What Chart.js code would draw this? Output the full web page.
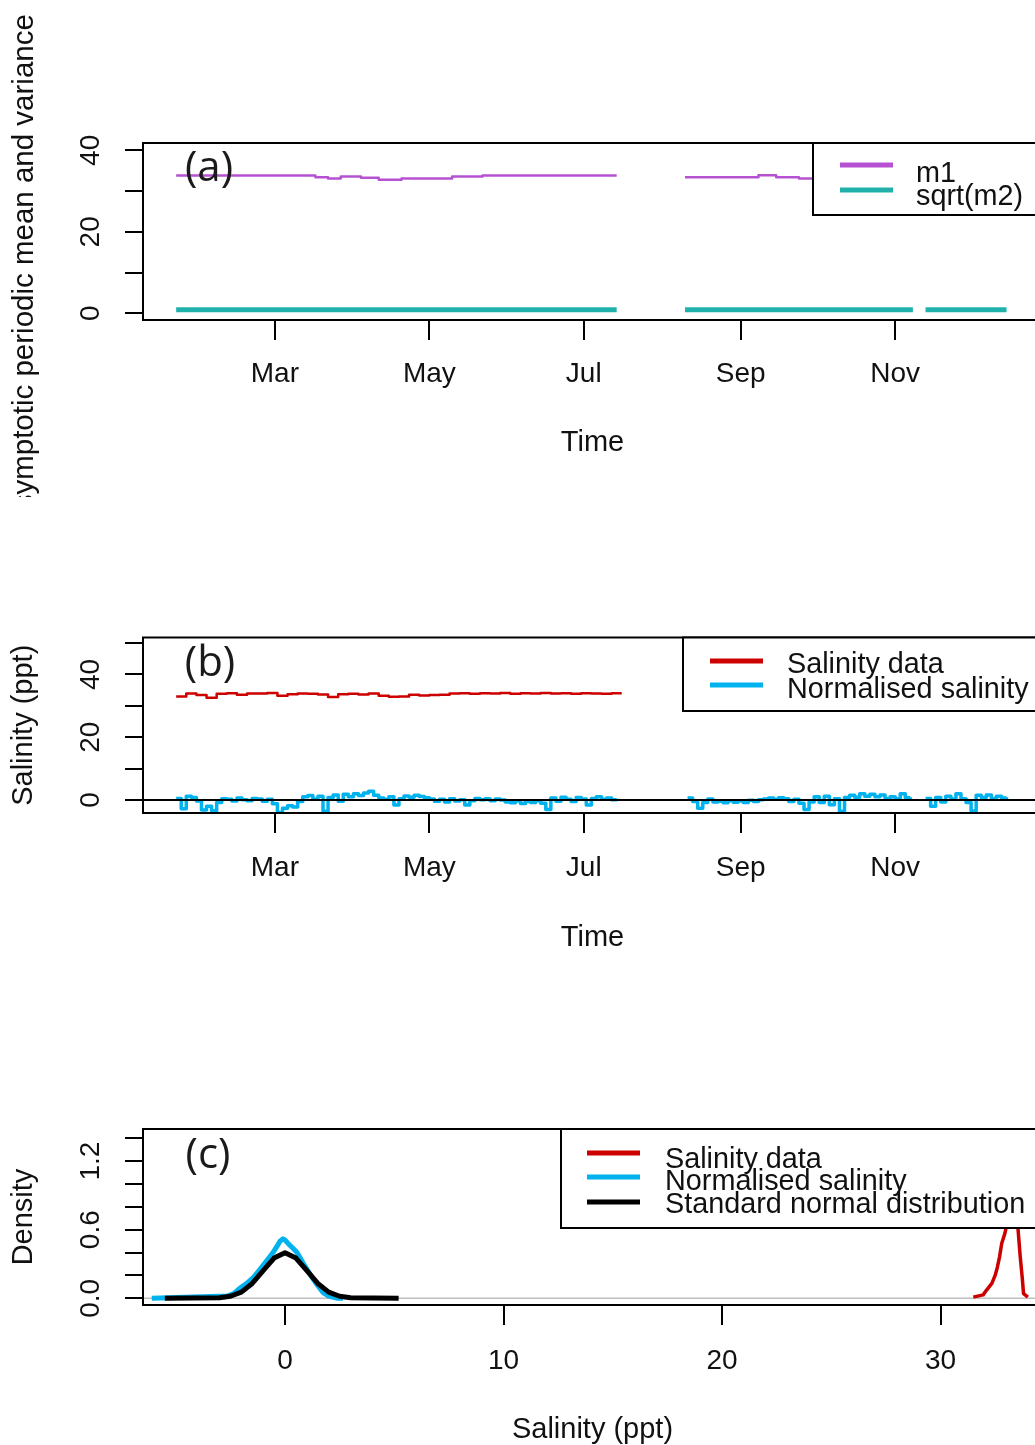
<!DOCTYPE html>
<html>
<head>
<meta charset="utf-8">
<script src="https://cdn.jsdelivr.net/npm/chart.js@4.4.1/dist/chart.umd.min.js"></script>
<style>
html, body { margin: 0; padding: 0; background: #fff; overflow: hidden; width: 1035px; height: 1445px; }
canvas { position: absolute; left: 0; }
</style>
</head>
<body>
<canvas id="panel_a" width="1060" height="497" style="top:0px"></canvas>
<canvas id="panel_b" width="1060" height="480" style="top:497px"></canvas>
<canvas id="panel_c" width="1060" height="471" style="top:977px"></canvas>
<script>
// time axis is day of year (1 Jan = 0)
const month_ticks = [59, 120, 181, 243, 304];
const month_labels = ['Mar', 'May', 'Jul', 'Sep', 'Nov'];

// (a) m1 is a step function, null = no data
const m1_days = [20, 75, 80, 85, 93, 100, 109, 129, 141, 194, 207, 221, 250, 257, 266, 311, 313, 316, 348];
const m1_values = [33.8, 33.4, 33.1, 33.6, 33.3, 32.8, 33.1, 33.6, 33.8, 33.8, null, 33.4, 33.9, 33.4, 33.1, 33.1, null, 33.4, 33.4];
const sqrt_m2_days = [20, 194, 207, 221, 311, 313, 316, 348];
const sqrt_m2_values = [0.9, 0.9, null, 0.9, 0.9, null, 0.9, 0.9];
const a_y_ticks = [0, 10, 20, 30, 40];
const a_y_labels = ['0', '', '20', '', '40'];

// (b) salinity every 4 days from day 20
const salinity_start = 20;
const salinity_step = 4;
const salinity_values = [33.0, 33.9, 33.4, 32.6, 33.8, 34.0, 33.5, 33.9, 33.9, 34.1, 33.2, 33.7, 33.9, 33.8, 33.6, 32.8, 33.7, 33.8, 33.6, 33.9,
	33.2, 32.9, 33.0, 33.5, 33.3, 33.4, 33.5, 33.9, 34.0, 33.8, 34.0, 33.9, 34.1, 33.8, 34.0, 33.9, 34.1, 33.9, 34.0, 33.8,
	34.0, 33.9, 33.8, 34.0, 34.0];
// normalised salinity every 2 days, three pieces
const norm_step = 2;
const norm_starts = [20, 222, 316];
const norm_values_1 = [0.5, -2.8, 1.2, 0.8, -0.3, -3.2, -2.0, -3.4, -0.8, 0.4,
	0.2, -0.3, 0.6, 0.1, -0.2, 0.5, 0.3, -0.4, 0.2, -1.2,
	-4.0, -2.6, -1.8, -2.2, -0.5, 1.0, 1.4, 0.3, 1.2, -3.6,
	0.8, 1.6, -0.4, 1.8, 1.0, 2.0, 1.4, 2.2, 2.8, 1.5,
	0.6, 0.2, 1.0, -1.6, 0.4, 1.3, 0.9, 1.5, 1.1, 0.7,
	0.3, -0.4, 0.2, -0.6, 0.4, -0.3, 0.1, -1.6, -0.2, 0.5,
	0.1, 0.4, -0.2, 0.3, 0.0, -0.6, -0.9, -0.3, -1.1, -0.5,
	-0.8, -0.2, -1.0, -3.0, 0.6, -0.4, 0.9, 0.2, -0.5, 0.8,
	0.3, -1.6, 0.5, 1.0, 0.2, 0.6, 0.1, 0.4];
const norm_values_2 = [0.6, -0.5, -2.6, -0.8, 0.3, -0.6, -0.4, -0.9, -0.2, -0.7,
	-0.3, -0.8, -0.1, -0.5, 0.1, 0.3, 0.6, 0.2, 0.7, 0.4,
	-0.5, 0.2, -1.0, -3.0, -0.6, 1.0, -0.8, 1.2, -1.5, 0.4,
	-3.6, 0.8, 1.5, 0.9, 2.0, 1.2, 1.8, 1.0, 1.6, 0.5,
	1.0, 0.4, 2.0, 0.7, 0.9];
const norm_values_3 = [0.5, -2.0, 0.8, -0.6, 1.2, 0.3, 2.0, 0.4, -0.8, -3.5, 1.5, 0.8, 1.6, 0.5, 1.2, 0.6, 0.9];
const b_y_ticks = [0, 10, 20, 30, 40, 50];
const b_y_labels = ['0', '', '20', '', '40', ''];

// (c) densities
const dens_sal_x = [31.5, 31.95, 32.1, 32.35, 32.5, 32.6, 32.7, 32.8, 32.95, 33.05, 33.2, 33.3, 33.45, 33.55, 33.65, 33.75, 33.8, 34.0];
const dens_sal_y = [0.01, 0.03, 0.07, 0.13, 0.20, 0.27, 0.36, 0.48, 0.57, 0.66, 0.95, 1.08, 0.90, 0.60, 0.36, 0.16, 0.04, 0.01];
const dens_norm_x = [-6.1, -2.65, -2.35, -2.06, -1.75, -1.46, -1.2, -1.0, -0.75, -0.55, -0.35, -0.23, -0.1, 0.0, 0.14, 0.35, 0.55, 0.82, 1.05, 1.28, 1.5, 1.74, 2.0, 2.4, 2.65];
const dens_norm_y = [0.0, 0.02, 0.04, 0.09, 0.13, 0.18, 0.24, 0.29, 0.35, 0.40, 0.46, 0.50, 0.52, 0.51, 0.48, 0.44, 0.40, 0.31, 0.24, 0.17, 0.11, 0.05, 0.02, 0.0, 0.0];
const std_norm_x = [-5.5, -3.0, -2.5, -2.0, -1.5, -1.0, -0.5, 0.0, 0.5, 1.0, 1.5, 2.0, 2.5, 3.0, 5.2];
const std_norm_y = [0.0, 0.004, 0.018, 0.054, 0.130, 0.242, 0.352, 0.399, 0.352, 0.242, 0.130, 0.054, 0.018, 0.004, 0.0];
const c_x_ticks = [0, 10, 20, 30];
const c_x_labels = ['0', '10', '20', '30'];
const c_y_ticks = [0, 0.2, 0.4, 0.6, 0.8, 1.0, 1.2, 1.4];
const c_y_labels = ['0.0', '', '', '0.6', '', '', '1.2', ''];

const text_color = '#111';
Chart.defaults.font.family = "'Liberation Sans', Arial, Helvetica, sans-serif";
Chart.defaults.font.size = 28;
Chart.defaults.color = text_color;

function pairs(xs, ys)
{
	return xs.map(function(x, i) { return { x: x, y: ys[i] }; });
}

function regular(start, step, values)
{
	return values.map(function(v, i) { return { x: start + i * step, y: v }; });
}

let norm_points = [];
let norm_pieces = [norm_values_1, norm_values_2, norm_values_3];
for(let i = 0; i < norm_pieces.length; i++)
{
	if(i > 0)
	{
		norm_points.push({ x: norm_starts[i] - 1, y: null });
	}
	norm_points = norm_points.concat(regular(norm_starts[i], norm_step, norm_pieces[i]));
}

function framePlugin(panel)
{
	return {
		id: 'rframe_' + panel.name,
		afterDatasetsDraw: function(chart)
		{
			let ctx = chart.ctx;
			let area = chart.chartArea;
			let top = panel.top;
			ctx.save();
			ctx.lineWidth = 2;
			ctx.strokeStyle = '#000';
			ctx.strokeRect(area.left, area.top, area.right - area.left, area.bottom - area.top);
			let lg = panel.legend;
			ctx.fillStyle = '#fff';
			ctx.fillRect(lg.left, area.top, area.right - lg.left + 20, lg.bottom - top - area.top);
			ctx.strokeStyle = '#000';
			ctx.strokeRect(lg.left, area.top, area.right - lg.left + 20, lg.bottom - top - area.top);
			ctx.font = '28.8px ' + Chart.defaults.font.family;
			ctx.textAlign = 'left';
			ctx.textBaseline = 'alphabetic';
			for(let row of lg.rows)
			{
				let ds = chart.data.datasets[row.dataset];
				ctx.strokeStyle = ds.borderColor;
				ctx.lineWidth = 5;
				ctx.beginPath();
				ctx.moveTo(lg.line_x0, row.line_y - top);
				ctx.lineTo(lg.line_x1, row.line_y - top);
				ctx.stroke();
				ctx.fillStyle = text_color;
				ctx.fillText(ds.label, lg.text_x, row.text_y - top);
			}
			ctx.font = "42px 'Open Sans', 'Noto Sans', sans-serif";
			ctx.fillStyle = '#1a1a1a';
			ctx.textAlign = 'center';
			ctx.textBaseline = 'middle';
			ctx.fillText(panel.letter.text, panel.letter.x, panel.letter.y - top);
			if(panel.long_ylab)
			{
				let yl = panel.long_ylab;
				ctx.translate(yl.x, yl.y - top);
				ctx.rotate(-Math.PI / 2);
				ctx.font = '29.5px ' + Chart.defaults.font.family;
				ctx.fillStyle = text_color;
				ctx.textAlign = 'left';
				ctx.textBaseline = 'alphabetic';
				ctx.fillText(yl.text, 0, 0);
			}
			ctx.restore();
		}
	};
}

function buildPanel(panel)
{
	return new Chart(document.getElementById(panel.canvas),
		{
			type: 'line',
			data: { datasets: panel.datasets },
			options:
				{
					responsive: false,
					animation: false,
					events: [],
					layout: { padding: { top: panel.pad_top, right: 18, bottom: panel.pad_bottom, left: 0 } },
					elements:
						{
							point: { radius: 0 },
							line: { tension: 0, borderCapStyle: 'butt', borderJoinStyle: 'round' }
						},
					scales:
						{
							x:
								{
									type: 'linear',
									min: panel.x_min,
									max: panel.x_max,
									afterBuildTicks: function(scale) { scale.ticks = panel.x_ticks.map(function(v) { return { value: v }; }); },
									afterFit: function(scale) { scale.height = panel.x_axis_height; },
									grid: { drawOnChartArea: false, tickLength: 20, color: '#000', lineWidth: 2 },
									border: { display: false },
									ticks:
										{
											autoSkip: false,
											maxRotation: 0,
											padding: panel.x_tick_pad,
											callback: function(v, i) { return panel.x_labels[i]; }
										},
									title: { display: true, text: panel.x_title, font: { size: 29 }, padding: { top: 0, bottom: 1 } }
								},
							y:
								{
									type: 'linear',
									min: panel.y_min,
									max: panel.y_max,
									afterBuildTicks: function(scale) { scale.ticks = panel.y_ticks.map(function(v) { return { value: v }; }); },
									afterFit: function(scale) { scale.width = 143; },
									grid: { drawOnChartArea: false, tickLength: 18, color: '#000', lineWidth: 2 },
									border: { display: false },
									ticks:
										{
											autoSkip: false,
											minRotation: 90,
											maxRotation: 90,
											crossAlign: 'center',
											padding: panel.y_tick_pad,
											callback: function(v, i) { return panel.y_labels[i]; }
										},
									title:
										{
											display: panel.y_title !== null,
											text: panel.y_title || '',
											font: { size: 29 },
											padding: { top: 7, bottom: 0 }
										}
								}
						},
					plugins:
						{
							legend: { display: false },
							tooltip: { enabled: false }
						}
				},
			plugins: [framePlugin(panel)]
		});
}

const time_min = 6.9;
const time_max = 362;

buildPanel(
	{
		name: 'a',
		canvas: 'panel_a',
		top: 0,
		pad_top: 143,
		pad_bottom: 36,
		x_axis_height: 141,
		x_tick_pad: 17,
		x_min: time_min,
		x_max: time_max,
		x_ticks: month_ticks,
		x_labels: month_labels,
		x_title: 'Time',
		y_min: -1.64,
		y_max: 41.8,
		y_ticks: a_y_ticks,
		y_labels: a_y_labels,
		y_title: null,
		y_tick_pad: 18,
		datasets:
			[
				{ label: 'm1', data: pairs(m1_days, m1_values), borderColor: '#b652d2', borderWidth: 2.5, stepped: true },
				{ label: 'sqrt(m2)', data: pairs(sqrt_m2_days, sqrt_m2_values), borderColor: '#20b2aa', borderWidth: 5 }
			],
		letter: { text: '(a)', x: 209, y: 169 },
		legend:
			{
				left: 813, bottom: 215, line_x0: 840, line_x1: 893, text_x: 916,
				rows: [ { dataset: 0, line_y: 165, text_y: 182 }, { dataset: 1, line_y: 190, text_y: 205 } ]
			},
		long_ylab: { text: 'Asymptotic periodic mean and variance', x: 33, y: 529 }
	});

buildPanel(
	{
		name: 'b',
		canvas: 'panel_b',
		top: 497,
		pad_top: 140.5,
		pad_bottom: 21,
		x_axis_height: 143,
		x_tick_pad: 18,
		x_min: time_min,
		x_max: time_max,
		x_ticks: month_ticks,
		x_labels: month_labels,
		x_title: 'Time',
		y_min: -4.14,
		y_max: 51.75,
		y_ticks: b_y_ticks,
		y_labels: b_y_labels,
		y_title: 'Salinity (ppt)',
		y_tick_pad: 18,
		datasets:
			[
				{ label: 'zero', data: [{ x: time_min, y: 0 }, { x: time_max, y: 0 }], borderColor: '#000', borderWidth: 2 },
				{ label: 'Salinity data', data: regular(salinity_start, salinity_step, salinity_values), borderColor: '#cd0000', borderWidth: 2.5, stepped: true },
				{ label: 'Normalised salinity', data: norm_points, borderColor: '#00b2ee', borderWidth: 3.5, stepped: true }
			],
		letter: { text: '(b)', x: 210, y: 664 },
		legend:
			{
				left: 683, bottom: 711, line_x0: 710, line_x1: 763, text_x: 787,
				rows: [ { dataset: 1, line_y: 661, text_y: 673 }, { dataset: 2, line_y: 685, text_y: 698 } ]
			}
	});

buildPanel(
	{
		name: 'c',
		canvas: 'panel_c',
		top: 977,
		pad_top: 152,
		pad_bottom: 0,
		x_axis_height: 143,
		x_tick_pad: 19,
		x_min: -6.5,
		x_max: 34.645,
		x_ticks: c_x_ticks,
		x_labels: c_x_labels,
		x_title: 'Salinity (ppt)',
		y_min: -0.0586,
		y_max: 1.481,
		y_ticks: c_y_ticks,
		y_labels: c_y_labels,
		y_title: 'Density',
		y_tick_pad: 14.5,
		datasets:
			[
				{ label: 'Salinity data', data: pairs(dens_sal_x, dens_sal_y), borderColor: '#cd0000', borderWidth: 3.5 },
				{ label: 'Standard normal distribution', data: pairs(std_norm_x, std_norm_y), borderColor: '#000', borderWidth: 5 },
				{ label: 'Normalised salinity', data: pairs(dens_norm_x, dens_norm_y), borderColor: '#00b2ee', borderWidth: 5 },
				{ label: 'zero', data: [{ x: -6.5, y: 0 }, { x: 34.645, y: 0 }], borderColor: '#bebebe', borderWidth: 1.5 }
			],
		letter: { text: '(c)', x: 208, y: 1156 },
		legend:
			{
				left: 561, bottom: 1228, line_x0: 587, line_x1: 640, text_x: 665,
				rows: [ { dataset: 0, line_y: 1153, text_y: 1168 }, { dataset: 2, line_y: 1177, text_y: 1190 }, { dataset: 1, line_y: 1202, text_y: 1213 } ]
			}
	});
</script>
</body>
</html>
